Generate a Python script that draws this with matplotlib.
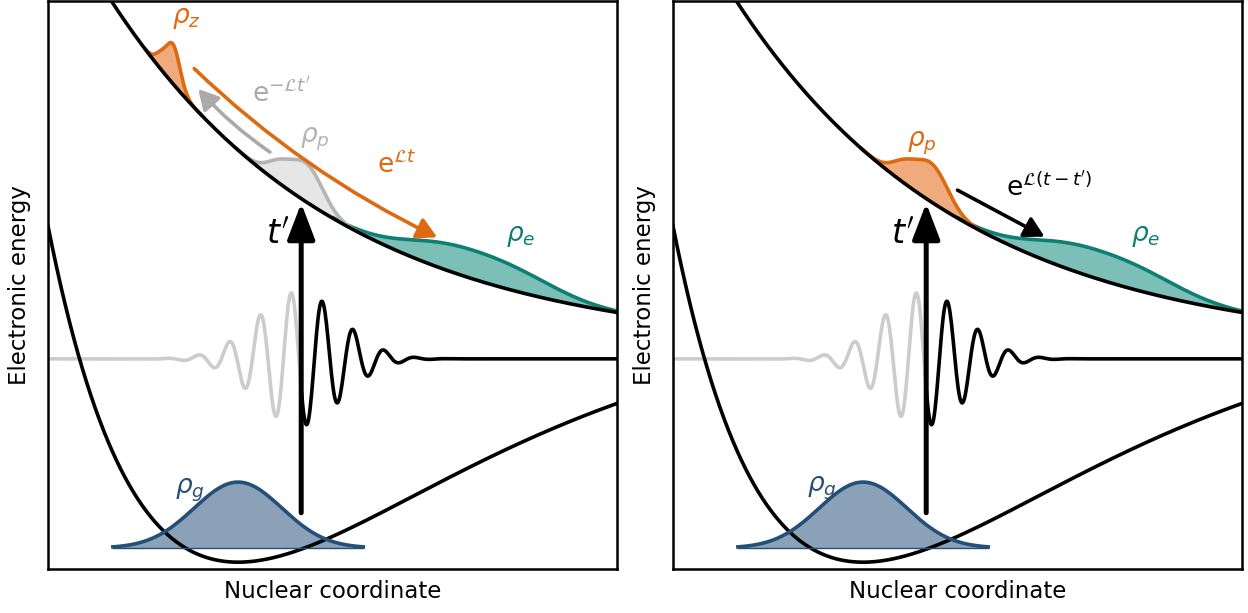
import numpy as np
import matplotlib
matplotlib.use("Agg")
import matplotlib.pyplot as plt
from matplotlib.patches import FancyArrowPatch

# ---------------- schematic parameters (axes units 0..1) ----------------
ground_morse = [0.46, 2.27, 0.334, 0.012]      # depth, width, x0, offset
excited_exp = [0.8125, 2.5, 0.385]              # amplitude, decay, offset
pulse_par = [0.441, 0.074, 0.118, 0.0545]       # centre, sigma, amplitude, period
pulse_base = 0.37
pulse_split = 0.445

# wavepackets: lists of (centre, sigma, height)
rho_g_peak = [(0.334, 0.077, 0.116)]
rho_g_base = 0.037
rho_g_span = [0.114, 0.554]
rho_z_peaks = [(0.220, 0.012, 0.068), (0.198, 0.010, 0.02)]
rho_p_peaks = [(0.405, 0.022, 0.028), (0.455, 0.028, 0.066)]
rho_e_peaks = [(0.68, 0.07, 0.028), (0.80, 0.085, 0.04)]

tprime_x = 0.445
tprime_y = [0.099, 0.644]

c_orange, c_orange_f = "#dd6a10", "#f0ab7c"
c_teal, c_teal_f = "#0f7f74", "#7cbfb6"
c_blue, c_blue_f = "#244f78", "#8aa1b8"
c_gray, c_gray_f = "#b4b4b4", "#e6e6e6"
c_pulse = "#cccccc"


def v_ground(x):
    d, a, x0, v0 = ground_morse
    return d * (1 - np.exp(-a * (x - x0))) ** 2 + v0


def v_exc(x):
    a, b, c = excited_exp
    return a * np.exp(-b * x) + c


def packet(x, peaks):
    return sum(h * np.exp(-(x - c) ** 2 / (2 * s ** 2)) for c, s, h in peaks)


def pulse(x):
    c, s, a, T = pulse_par
    return pulse_base - a * np.exp(-(x - c) ** 2 / (2 * s ** 2)) * np.sin(2 * np.pi * (x - c) / T)


def draw_exc_packet(ax, peaks, lo, hi, line, fill):
    x = np.linspace(lo, hi, 400)
    top = v_exc(x) + packet(x, peaks)
    ax.fill_between(x, v_exc(x), top, color=fill, lw=0, zorder=2)
    ax.plot(x, top, color=line, lw=2.6, zorder=2.5, solid_capstyle="round")


def curved_arrow(ax, start, end, color, rad, lw=2.6):
    arr = FancyArrowPatch(start, end, connectionstyle=f"arc3,rad={rad}",
                          arrowstyle="-|>,head_length=0.6,head_width=0.33",
                          mutation_scale=20, lw=lw, color=color,
                          shrinkA=0, shrinkB=0, zorder=5)
    ax.add_patch(arr)


def draw_base(ax):
    x = np.linspace(0, 1, 800)
    # pulse
    xl = x[x <= pulse_split]
    xr = x[x >= pulse_split]
    ax.plot(xl, pulse(xl), color=c_pulse, lw=2.6, zorder=1)
    ax.plot(xr, pulse(xr), color="k", lw=2.6, zorder=1)
    # ground-state packet (fill under the potential)
    xg = np.linspace(rho_g_span[0], rho_g_span[1], 300)
    yg = rho_g_base + packet(xg, rho_g_peak)
    ax.fill_between(xg, rho_g_base, yg, color=c_blue_f, lw=0, zorder=1.5)
    # potentials
    ax.plot(x, v_ground(x), color="k", lw=2.6, zorder=3)
    ax.plot(x, v_exc(x), color="k", lw=2.6, zorder=3)
    ax.plot(xg, yg, color=c_blue, lw=2.6, zorder=4)
    ax.plot(rho_g_span, [rho_g_base, rho_g_base], color=c_blue, lw=1.0, zorder=4)
    # excitation arrow t'
    ax.annotate("", xy=(tprime_x, tprime_y[1]), xytext=(tprime_x, tprime_y[0]),
                arrowprops=dict(arrowstyle="-|>,head_length=1.1,head_width=0.42",
                                mutation_scale=20, lw=3.6, color="k",
                                shrinkA=0, shrinkB=0), zorder=6)
    ax.text(0.403, 0.59, r"$t^{\prime}$", fontsize=24, ha="center", va="center", zorder=6)
    # excited-state packet rho_e
    draw_exc_packet(ax, rho_e_peaks, 0.5, 1.0, c_teal, c_teal_f)
    ax.text(0.83, 0.587, r"$\rho_e$", color=c_teal, fontsize=19, ha="center", va="center")
    ax.set_xlim(0, 1)
    ax.set_ylim(0, 1)
    ax.set_xticks([])
    ax.set_yticks([])
    for sp in ax.spines.values():
        sp.set_linewidth(1.8)
    ax.set_xlabel("Nuclear coordinate", fontsize=16.5, labelpad=8)
    ax.set_ylabel("Electronic energy", fontsize=16.5, labelpad=12)


fig = plt.figure(figsize=(12.48, 6.13), dpi=100)
ax1 = fig.add_axes([48 / 1248, 1 - 569 / 613, 569 / 1248, 568 / 613])
ax2 = fig.add_axes([673 / 1248, 1 - 569 / 613, 569 / 1248, 568 / 613])

# ---- left panel ----
draw_base(ax1)
ax1.text(0.25, 0.138, r"$\rho_g$", color=c_blue, fontsize=19, ha="center", va="center")
draw_exc_packet(ax1, rho_z_peaks, 0.17, 0.27, c_orange, c_orange_f)
ax1.text(0.244, 0.97, r"$\rho_z$", color=c_orange, fontsize=19, ha="center", va="center")
draw_exc_packet(ax1, rho_p_peaks, 0.33, 0.56, c_gray, c_gray_f)
ax1.text(0.469, 0.757, r"$\rho_p$", color=c_gray, fontsize=19, ha="center", va="center")
curved_arrow(ax1, (0.257, 0.881), (0.684, 0.584), c_orange, 0.08)
ax1.text(0.613, 0.711, r"$\mathrm{e}^{\mathcal{L}t}$", color=c_orange, fontsize=19,
         ha="center", va="center")
curved_arrow(ax1, (0.390, 0.734), (0.264, 0.845), "#aaaaaa", -0.06)
ax1.text(0.410, 0.838, r"$\mathrm{e}^{-\mathcal{L}t^{\prime}}$", color="#aaaaaa", fontsize=19,
         ha="center", va="center")

# ---- right panel ----
draw_base(ax2)
ax2.text(0.262, 0.142, r"$\rho_g$", color=c_blue, fontsize=19, ha="center", va="center")
draw_exc_packet(ax2, rho_p_peaks, 0.33, 0.56, c_orange, c_orange_f)
ax2.text(0.4376, 0.75, r"$\rho_p$", color=c_orange, fontsize=19, ha="center", va="center")
curved_arrow(ax2, (0.5, 0.667), (0.653, 0.585), "k", 0.0)
ax2.text(0.662, 0.6725, r"$\mathrm{e}^{\mathcal{L}(t-t^{\prime})}$", color="k", fontsize=19,
         ha="center", va="center")

fig.savefig("out.png", dpi=100)
